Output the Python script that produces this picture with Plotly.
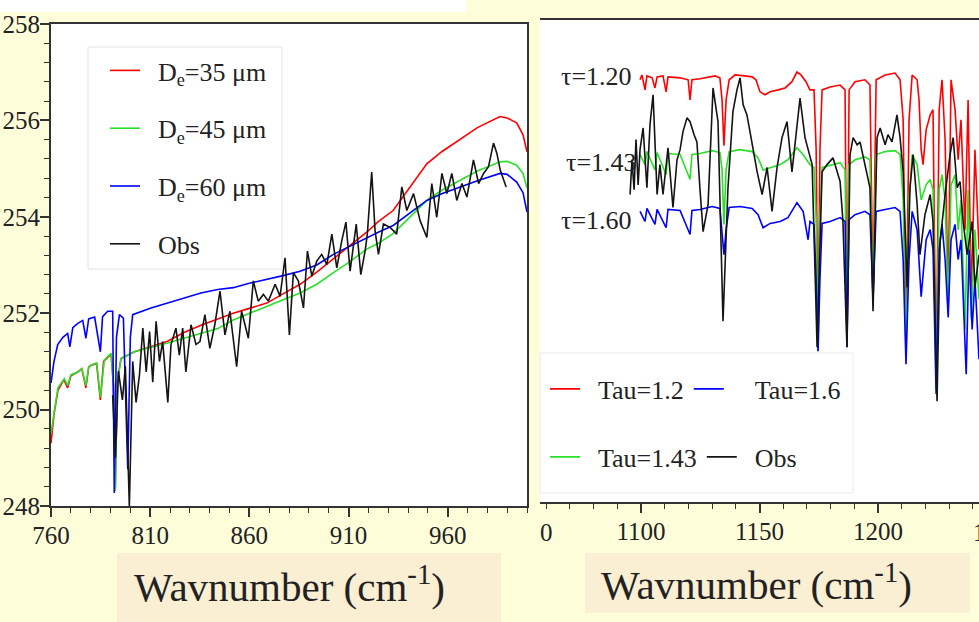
import plotly.graph_objects as go

W, H = 979, 622

# ---------------- Left panel: effective diameter sensitivity (760-1000 cm-1) ----------------
left_red_x = [760.0, 761.5, 763.5, 766.5, 768.4, 770.0, 773.5, 775.5, 777.6, 779.0, 780.2, 783.0,
              784.9, 786.5, 790.3, 791.5, 792.4, 793.5, 795.3, 802.0, 810.0, 818.8, 827.0, 835.6,
              844.1, 851.9, 860.0, 868.8, 877.0, 885.6, 894.0, 902.4, 910.0, 919.2, 925.0, 932.5,
              940.0, 949.5, 957.0, 966.3, 975.0, 986.4, 990.0, 994.8, 998.0, 1000.0]
left_red_y = [249.3, 249.9, 250.4, 250.62, 250.45, 250.7, 250.78, 250.85, 250.45, 250.88, 250.92, 250.95,
              250.2, 251.0, 251.15, 250.5, 248.35, 250.6, 251.06, 251.2, 251.3, 251.42, 251.6, 251.75,
              251.88, 252.0, 252.1, 252.21, 252.4, 252.6, 252.85, 253.12, 253.38, 253.68, 253.9, 254.13,
              254.55, 255.1, 255.35, 255.6, 255.85, 256.08, 256.05, 255.95, 255.7, 255.35]

left_green_x = [760.0, 761.7, 763.5, 766.7, 768.4, 770.0, 773.5, 775.5, 777.6, 779.0, 780.2, 783.0,
                784.9, 786.9, 790.3, 791.5, 792.4, 793.5, 795.3, 802.0, 810.0, 818.8, 827.0, 835.6,
                844.1, 851.9, 860.0, 868.8, 877.0, 885.6, 894.0, 902.4, 910.0, 919.2, 925.0, 932.5,
                940.0, 949.5, 957.0, 966.3, 975.0, 986.4, 990.0, 994.8, 998.0, 1000.0]
left_green_y = [249.5, 250.0, 250.45, 250.64, 250.5, 250.72, 250.78, 250.85, 250.5, 250.88, 250.92, 250.97,
                250.26, 251.03, 251.17, 250.5, 248.31, 250.6, 251.06, 251.2, 251.28, 251.38, 251.48, 251.58,
                251.68, 251.86, 252.0, 252.14, 252.28, 252.42, 252.6, 252.84, 253.05, 253.33, 253.45, 253.65,
                253.95, 254.34, 254.55, 254.76, 254.95, 255.14, 255.15, 255.07, 254.9, 254.6]

left_blue_x = [760.0, 761.5, 763.4, 766.0, 768.4, 769.5, 771.0, 773.5, 776.0, 777.6, 779.0, 782.0,
               784.9, 786.0, 788.6, 791.1, 791.9, 793.0, 794.5, 796.5, 798.7, 800.0, 801.2, 810.4,
               818.8, 827.2, 835.6, 844.1, 851.9, 860.0, 868.8, 877.0, 885.6, 894.0, 902.4, 910.0,
               919.2, 925.0, 932.5, 940.0, 949.5, 957.0, 966.3, 975.0, 986.4, 990.0, 994.8, 998.0, 1000.0]
left_blue_y = [250.55, 251.0, 251.35, 251.5, 251.58, 251.3, 251.7, 251.79, 251.85, 251.48, 251.88, 251.92,
               251.2, 251.93, 252.04, 252.04, 248.27, 251.5, 251.97, 251.9, 248.76, 251.5, 251.97, 252.11,
               252.21, 252.32, 252.42, 252.49, 252.53, 252.62, 252.7, 252.78, 252.87, 253.0, 253.22, 253.38,
               253.57, 253.68, 253.82, 254.05, 254.34, 254.48, 254.62, 254.75, 254.9, 254.88, 254.72, 254.5, 254.1]

left_obs_x = [791.1, 792.5, 794.0, 796.0, 797.5, 799.5, 801.2, 802.9, 804.6, 806.3, 808.0, 809.7,
              811.3, 813.0, 814.7, 816.3, 818.9, 820.5, 823.0, 824.7, 826.4, 828.0, 830.6, 833.1,
              835.1, 837.6, 840.1, 842.6, 845.2, 847.7, 850.2, 853.6, 856.1, 859.5, 862.0, 864.5,
              867.1, 869.6, 873.0, 875.5, 878.0, 880.2, 882.2, 884.7, 887.3, 889.3, 891.5, 894.0,
              896.5, 899.1, 901.6, 904.1, 906.6, 908.7, 910.8, 913.9, 916.2, 918.4, 919.5, 921.7,
              923.4, 925.1, 927.6, 931.0, 934.3, 936.9, 939.4, 942.8, 946.1, 949.5, 952.0, 954.5,
              957.1, 959.6, 962.1, 964.6, 967.2, 969.7, 973.0, 975.6, 978.1, 980.6, 983.1, 984.8,
              986.5, 988.2, 989.5]
left_obs_y = [250.3, 249.0, 250.8, 250.2, 250.9, 248.0, 251.0, 250.15, 250.72, 251.69, 250.78, 251.62,
              250.57, 251.83, 251.0, 251.41, 250.15, 251.35, 251.69, 251.13, 251.69, 250.78, 251.76, 251.35,
              251.41, 251.97, 251.27, 251.76, 252.46, 251.55, 252.04, 250.89, 252.04, 251.48, 252.67, 252.25,
              252.39, 252.25, 252.6, 252.35, 253.15, 251.55, 252.84, 252.67, 252.11, 253.29, 252.77, 253.08,
              253.22, 253.01, 253.64, 252.94, 253.5, 253.89, 252.87, 253.85, 252.8, 253.3, 253.64, 254.93,
              253.71, 253.22, 253.85, 253.78, 253.64, 254.62, 254.13, 254.48, 253.92, 253.57, 254.69, 253.99,
              254.9, 254.48, 254.9, 254.34, 254.69, 254.41, 255.18, 254.69, 254.9, 255.04, 255.53, 255.32,
              254.97, 254.76, 254.62]

left_names = ["D<sub>e</sub>=35 μm", "D<sub>e</sub>=45 μm", "D<sub>e</sub>=60 μm", "Obs"]
left_ticks_x = [760, 810, 860, 910, 960]
left_ticks_y = [248, 250, 252, 254, 256, 258]

# ---------------- Right panel: optical depth sensitivity (1050-1250 cm-1) ----------------
tau12_x = [1099.6, 1100.4, 1101.7, 1102.5, 1104.7, 1105.9, 1106.8, 1109.3, 1110.6, 1111.4,
           1116.5, 1119.9, 1120.7, 1121.5, 1124.9, 1131.2, 1133.3, 1134.2, 1135.0, 1135.9,
           1137.2, 1139.7, 1143.9, 1146.9, 1148.5, 1150.2, 1152.3, 1154.5, 1157.8, 1160.8,
           1163.7, 1165.8, 1167.5, 1169.6, 1171.3, 1173.0, 1173.9, 1174.7, 1175.5, 1176.4,
           1179.8, 1184.0, 1186.1, 1186.9, 1187.8, 1190.3, 1194.5, 1196.6, 1197.9, 1199.2,
           1203.0, 1207.2, 1209.3, 1210.6, 1211.8, 1213.1, 1214.4, 1216.5, 1217.3, 1218.2,
           1219.0, 1220.3, 1222.0, 1223.2, 1224.5, 1225.8, 1227.0, 1228.3, 1229.6, 1230.8,
           1232.5, 1233.8, 1235.0, 1236.7, 1238.0, 1239.3, 1240.9, 1242.6]
tau12_y = [256.76, 256.86, 256.55, 256.84, 256.80, 256.59, 256.82, 256.84, 256.51, 256.82,
           256.80, 256.76, 256.34, 256.76, 256.78, 256.84, 256.80, 256.34, 255.39, 256.34,
           256.76, 256.86, 256.84, 256.82, 256.76, 256.51, 256.45, 256.51, 256.55, 256.59,
           256.72, 256.92, 256.86, 256.72, 256.55, 256.55, 255.31, 251.17, 255.31, 256.55,
           256.61, 256.65, 256.55, 251.27, 256.55, 256.72, 256.76, 256.65, 252.20, 256.76,
           256.86, 256.90, 256.76, 255.93, 251.37, 255.93, 256.86, 256.76, 256.34, 255.31,
           255.00, 255.72, 256.03, 256.14, 250.55, 256.14, 256.76, 255.52, 252.20, 256.76,
           256.14, 255.10, 255.93, 253.65, 256.34, 252.20, 255.31, 253.24]

tau143_x = [1099.6, 1101.7, 1102.5, 1105.9, 1106.8, 1110.6, 1111.4, 1116.5, 1120.7, 1121.5,
            1124.9, 1130.0, 1133.3, 1134.2, 1135.0, 1135.9, 1137.2, 1141.8, 1146.9, 1149.4,
            1151.5, 1154.5, 1158.7, 1162.0, 1165.8, 1168.4, 1171.3, 1173.0, 1173.9, 1174.7,
            1175.5, 1176.4, 1179.8, 1184.0, 1186.1, 1186.9, 1187.8, 1190.3, 1194.5, 1196.6,
            1197.9, 1199.2, 1203.0, 1207.2, 1209.3, 1210.6, 1211.8, 1213.1, 1214.4, 1216.5,
            1218.2, 1220.3, 1222.0, 1223.2, 1224.5, 1225.8, 1227.0, 1228.3, 1229.6, 1230.8,
            1232.5, 1233.8, 1235.0, 1236.7, 1238.0, 1239.3, 1240.9, 1242.6]
tau143_y = [255.21, 255.00, 255.27, 254.89, 255.25, 254.79, 255.23, 255.21, 254.69, 255.21,
            255.23, 255.29, 255.25, 254.89, 253.76, 254.89, 255.27, 255.31, 255.27, 255.14,
            254.89, 254.94, 255.00, 255.10, 255.35, 255.21, 255.00, 254.94, 253.86, 251.13,
            253.86, 254.94, 254.98, 255.04, 254.89, 251.27, 255.00, 255.10, 255.16, 255.10,
            252.20, 255.21, 255.27, 255.29, 255.21, 254.27, 251.06, 254.27, 255.21, 255.00,
            254.27, 254.58, 254.69, 254.48, 250.34, 254.48, 254.79, 254.27, 252.00, 254.58,
            254.79, 253.65, 254.27, 251.58, 254.48, 251.79, 253.65, 252.20]

tau16_x = [1099.6, 1101.7, 1102.5, 1105.9, 1106.8, 1110.6, 1111.4, 1116.5, 1120.7, 1121.5,
           1124.9, 1130.0, 1133.3, 1134.2, 1135.0, 1135.9, 1137.2, 1141.8, 1146.9, 1149.4,
           1151.5, 1154.5, 1158.7, 1162.0, 1165.8, 1168.4, 1170.5, 1171.3, 1173.0, 1173.9,
           1174.7, 1175.5, 1176.4, 1179.8, 1184.0, 1186.1, 1186.9, 1187.8, 1190.3, 1194.5,
           1196.6, 1197.9, 1199.2, 1203.0, 1207.2, 1209.3, 1210.6, 1211.8, 1213.1, 1214.4,
           1216.5, 1218.2, 1220.3, 1222.0, 1223.2, 1224.5, 1225.8, 1227.0, 1228.3, 1229.6,
           1230.8, 1232.5, 1233.8, 1235.0, 1237.2, 1238.4, 1239.7, 1240.9, 1242.6]
tau16_y = [254.03, 253.82, 254.09, 253.76, 254.07, 253.69, 254.07, 254.05, 253.55, 254.05,
           254.07, 254.13, 254.09, 253.65, 253.13, 253.65, 254.11, 254.13, 254.09, 253.96,
           253.69, 253.78, 253.82, 253.90, 254.21, 254.03, 253.44, 253.82, 253.76, 252.62,
           251.13, 252.62, 253.78, 253.82, 253.90, 253.82, 251.21, 253.86, 253.96, 254.03,
           253.96, 252.20, 254.03, 254.07, 254.11, 254.03, 253.03, 250.86, 253.03, 254.03,
           253.65, 252.26, 253.44, 253.65, 253.24, 250.24, 253.24, 253.76, 253.03, 251.83,
           253.44, 253.76, 253.03, 253.44, 250.65, 253.24, 251.58, 252.62, 250.96]

obs_r_x = [1095.4, 1096.2, 1097.1, 1097.9, 1098.8, 1099.6, 1100.9, 1102.5, 1103.8, 1105.1,
           1106.8, 1108.0, 1109.3, 1111.4, 1113.5, 1115.2, 1116.5, 1117.7, 1119.4, 1120.7,
           1122.4, 1123.6, 1124.9, 1126.2, 1128.3, 1130.4, 1132.5, 1134.6, 1136.7, 1138.8,
           1140.5, 1141.8, 1143.1, 1144.7, 1146.0, 1149.0, 1151.1, 1153.2, 1155.3, 1157.4,
           1159.5, 1161.6, 1163.7, 1165.8, 1167.1, 1169.2, 1172.2, 1174.3, 1176.4, 1178.5,
           1181.0, 1184.0, 1185.2, 1186.9, 1188.2, 1189.5, 1191.2, 1192.4, 1194.5, 1196.6,
           1197.9, 1199.6, 1200.9, 1203.0, 1204.2, 1205.9, 1208.0, 1209.3, 1210.6, 1212.3,
           1213.5, 1214.8, 1216.5, 1217.7, 1219.8, 1222.0, 1223.2, 1224.9, 1226.2, 1228.3,
           1230.4, 1231.7, 1233.4, 1234.6, 1235.9, 1237.6, 1239.7, 1240.9, 1242.6]
obs_r_y = [254.38, 255.10, 254.48, 255.52, 254.58, 255.31, 255.76, 254.52, 255.83, 256.45,
           254.38, 255.00, 254.38, 255.35, 254.11, 255.10, 255.31, 255.68, 255.97, 255.89,
           255.62, 255.47, 254.48, 253.61, 254.17, 256.59, 255.89, 251.75, 254.52, 256.10,
           256.55, 256.80, 256.24, 256.03, 255.68, 254.85, 254.38, 254.94, 254.03, 254.94,
           255.56, 255.89, 254.85, 255.89, 256.38, 255.56, 255.00, 251.21, 254.85, 255.00,
           255.14, 254.65, 253.82, 251.21, 255.21, 255.56, 255.41, 255.47, 255.00, 254.52,
           251.96, 255.56, 255.76, 255.41, 255.62, 255.47, 256.03, 255.56, 254.85, 252.45,
           254.52, 255.21, 254.17, 253.13, 253.96, 254.38, 253.82, 250.09, 253.40, 254.38,
           255.21, 255.56, 254.52, 254.65, 253.82, 253.13, 253.82, 252.45, 253.13]

right_names = ["Tau=1.2", "Tau=1.6", "Tau=1.43", "Obs"]
right_ticks_x = [1100, 1150, 1200]
tau_labels = ["τ=1.20", "τ=1.43", "τ=1.60"]

# ---------------- styling ----------------
SERIF = "Liberation Serif"
RED, GREEN, BLUE, BLACK = "rgb(255,0,0)", "rgb(40,225,40)", "rgb(0,0,255)", "rgb(20,20,20)"
YELLOW = "#FEFDDA"
PEACH = "#FAEED3"
INK = "#222222"
NB = "\u00a0\u00a0"
# leading gap (non-breaking spaces) in front of each right-legend label
right_pads = ["\u00a0\u00a0", "\u00a0" * 4, "\u00a0\u00a0", "\u00a0\u00a0"]


def pxx(x):
    return x / W


def pxy(y):
    return 1 - y / H


fig = go.Figure()

# left panel
for xs, ys, col, nm, grp in [(left_red_x, left_red_y, RED, left_names[0], "a"),
                              (left_green_x, left_green_y, GREEN, left_names[1], "b"),
                              (left_blue_x, left_blue_y, BLUE, left_names[2], "c"),
                              (left_obs_x, left_obs_y, BLACK, left_names[3], "d")]:
    fig.add_trace(go.Scatter(x=xs, y=ys, mode="lines", name=NB + nm,
                             line=dict(color=col, width=1.6),
                             xaxis="x", yaxis="y", legend="legend", legendgroup=grp))

# right panel
for xs, ys, col, nm, pad, lg in [(tau12_x, tau12_y, RED, right_names[0], right_pads[0], "legend2"),
                                  (tau143_x, tau143_y, GREEN, right_names[2], right_pads[2], "legend3"),
                                  (tau16_x, tau16_y, BLUE, right_names[1], right_pads[1], "legend2"),
                                  (obs_r_x, obs_r_y, BLACK, right_names[3], right_pads[3], "legend3")]:
    fig.add_trace(go.Scatter(x=xs, y=ys, mode="lines", name=pad + nm,
                             line=dict(color=col, width=1.6),
                             xaxis="x2", yaxis="y2", legend=lg))

axis_common = dict(showline=True, linecolor="#333333", linewidth=2, mirror=True,
                   showgrid=False, zeroline=False, ticks="outside", ticklen=9,
                   tickwidth=1.5, tickcolor="#333333", automargin=False,
                   tickfont=dict(family=SERIF, size=25, color=INK))

shapes = [
    # white strip at the very top of the left picture
    dict(type="rect", xref="paper", yref="paper", x0=0, x1=pxx(466), y0=pxy(12), y1=1,
         fillcolor="white", line=dict(width=0), layer="below"),
    # axis-title boxes
    dict(type="rect", xref="paper", yref="paper", x0=pxx(117), x1=pxx(501), y0=pxy(622), y1=pxy(553),
         fillcolor=PEACH, line=dict(width=0), layer="below"),
    dict(type="rect", xref="paper", yref="paper", x0=pxx(585), x1=pxx(970), y0=pxy(613), y1=pxy(553),
         fillcolor=PEACH, line=dict(width=0), layer="below"),
    # legend boxes
    dict(type="rect", xref="paper", yref="paper", x0=pxx(88), x1=pxx(282), y0=pxy(269), y1=pxy(47),
         fillcolor="white", line=dict(color="#e4e4e4", width=1), layer="above"),
    dict(type="rect", xref="paper", yref="paper", x0=pxx(540), x1=pxx(853), y0=pxy(493), y1=pxy(353),
         fillcolor="white", line=dict(color="#ececec", width=1), layer="above"),
]

annotations = []
for txt, xr, yc in zip(tau_labels, [634, 639, 634], [77, 163, 220]):
    annotations.append(dict(text=txt, xref="paper", yref="paper", x=pxx(xr), y=pxy(yc),
                            xanchor="right", yanchor="middle", showarrow=False,
                            font=dict(family=SERIF, size=26, color=INK)))
for xc, yc in [(289, 584), (756, 582)]:
    annotations.append(dict(text="Wavnumber (cm<sup>-1</sup>)", xref="paper", yref="paper",
                            x=pxx(xc), y=pxy(yc), xanchor="center", yanchor="middle",
                            showarrow=False, font=dict(family=SERIF, size=41, color=INK)))
# clipped tick-label fragments of the partly hidden right picture
annotations.append(dict(text="0", xref="paper", yref="paper", x=pxx(546), y=pxy(532),
                        xanchor="center", yanchor="middle", showarrow=False,
                        font=dict(family=SERIF, size=25, color=INK)))
annotations.append(dict(text="1", xref="paper", yref="paper", x=pxx(971), y=pxy(532),
                        xanchor="left", yanchor="middle", showarrow=False,
                        font=dict(family=SERIF, size=25, color=INK)))

legend_font = dict(family=SERIF, size=26, color=INK)

fig.update_layout(
    width=W, height=H, margin=dict(l=0, r=0, t=0, b=0, autoexpand=False),
    paper_bgcolor=YELLOW, plot_bgcolor="white",
    xaxis=dict(domain=[pxx(51), pxx(527)], range=[760, 1000], tickvals=left_ticks_x, anchor="y",
               ticklabelstandoff=-3,
               minor=dict(dtick=10, tick0=760, ticks="outside", ticklen=5, tickcolor="#333333",
                          tickwidth=1.2, showgrid=False),
               **axis_common),
    yaxis=dict(domain=[pxy(506), pxy(24)], range=[248, 258], tickvals=left_ticks_y, anchor="x",
               ticklabelstandoff=-5,
               minor=dict(dtick=0.4, tick0=248, ticks="outside", ticklen=5, tickcolor="#333333",
                          tickwidth=1.2, showgrid=False),
               **axis_common),
    xaxis2=dict(domain=[pxx(540), 1.0], range=[1057.4, 1242.6], tickvals=right_ticks_x, anchor="y2",
                ticklabelstandoff=-3,
                minor=dict(dtick=10, tick0=1050, ticks="outside", ticklen=5, tickcolor="#333333",
                           tickwidth=1.2, showgrid=False),
                **axis_common),
    yaxis2=dict(domain=[pxy(502), pxy(20)], range=[248, 258], anchor="x2", visible=False),
    legend=dict(x=pxx(105), y=pxy(47), xanchor="left", yanchor="top", bgcolor="rgba(0,0,0,0)",
                borderwidth=0, font=legend_font, tracegroupgap=21, traceorder="grouped"),
    legend2=dict(x=pxx(545), y=pxy(389), xanchor="left", yanchor="middle", orientation="h",
                 bgcolor="rgba(0,0,0,0)", borderwidth=0, font=legend_font),
    legend3=dict(x=pxx(545), y=pxy(457), xanchor="left", yanchor="middle", orientation="h",
                 bgcolor="rgba(0,0,0,0)", borderwidth=0, font=legend_font),
    shapes=shapes, annotations=annotations,
    showlegend=True,
)

fig.write_html("out.html")
